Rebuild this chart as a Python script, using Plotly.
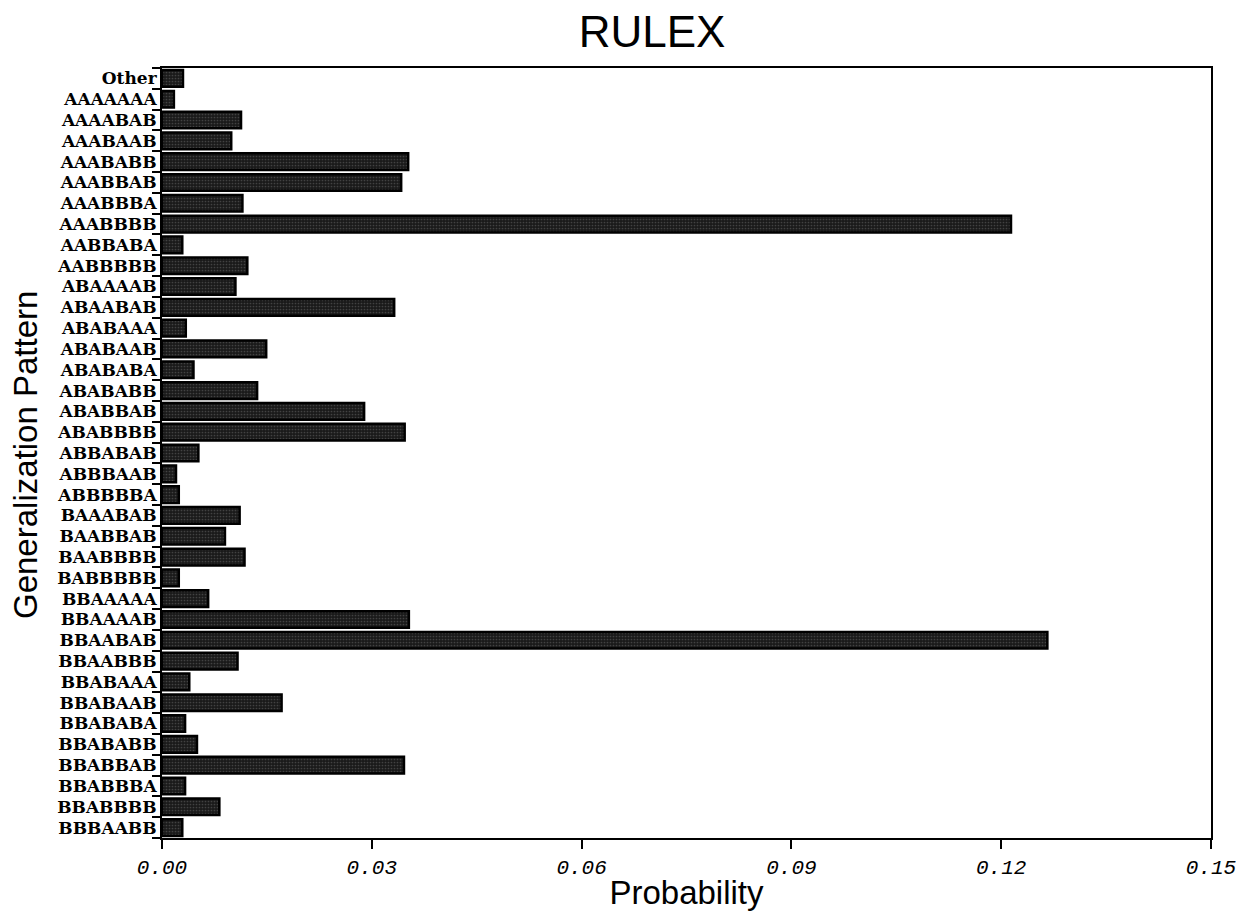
import plotly.graph_objects as go

patterns = [
    "Other", "AAAAAAA", "AAAABAB", "AAABAAB", "AAABABB", "AAABBAB", "AAABBBA",
    "AAABBBB", "AABBABA", "AABBBBB", "ABAAAAB", "ABAABAB", "ABABAAA", "ABABAAB",
    "ABABABA", "ABABABB", "ABABBAB", "ABABBBB", "ABBABAB", "ABBBAAB", "ABBBBBA",
    "BAAABAB", "BAABBAB", "BAABBBB", "BABBBBB", "BBAAAAA", "BBAAAAB", "BBAABAB",
    "BBAABBB", "BBABAAA", "BBABAAB", "BBABABA", "BBABABB", "BBABBAB", "BBABBBA",
    "BBABBBB", "BBBAABB",
]
probability = [
    0.0030, 0.0017, 0.0113, 0.0099, 0.0352, 0.0342, 0.0115,
    0.1214, 0.0029, 0.0122, 0.0105, 0.0332, 0.0034, 0.0149,
    0.0045, 0.0136, 0.0289, 0.0347, 0.0052, 0.0020, 0.0024,
    0.0111, 0.0090, 0.0118, 0.0024, 0.0066, 0.0353, 0.1266,
    0.0108, 0.0039, 0.0171, 0.0033, 0.0050, 0.0346, 0.0033,
    0.0082, 0.0029,
]
x_ticks = [0.0, 0.03, 0.06, 0.09, 0.12, 0.15]
x_tick_labels = ["0.00", "0.03", "0.06", "0.09", "0.12", "0.15"]

# page body has an 8px default margin, so the figure is sized to fit the window
W, H, OFF = 1236, 914, 8
L = 162 - OFF

fig = go.Figure(
    go.Bar(
        x=probability,
        y=patterns,
        orientation="h",
        marker=dict(
            color="#1a1a1a",
            line=dict(color="#000000", width=2.5),
            pattern=dict(shape=".", fgcolor="#6a6a6a", bgcolor="#1a1a1a",
                         size=3, solidity=0.25),
        ),
    )
)

fig.update_layout(
    width=W,
    height=H,
    paper_bgcolor="white",
    plot_bgcolor="white",
    margin=dict(l=L, r=33, t=68 - OFF, b=84),
    bargap=0.2,
    showlegend=False,
    title=dict(
        text="RULEX",
        x=(652 - OFF) / W,
        xanchor="center",
        y=1 - (32 - OFF) / H,
        yanchor="middle",
        font=dict(family="Liberation Sans, Arial, sans-serif", size=44, color="black"),
    ),
    xaxis=dict(
        range=[0, 0.15],
        tickvals=x_ticks,
        ticktext=x_tick_labels,
        automargin=False,
        showgrid=False,
        zeroline=False,
        showline=True,
        linecolor="black",
        linewidth=2,
        mirror=True,
        ticks="outside",
        ticklen=9,
        tickwidth=2,
        tickcolor="black",
        tickfont=dict(family="Liberation Mono, Courier New, monospace", size=21,
                      color="black", style="italic"),
        title=dict(
            text="Probability",
            font=dict(family="Liberation Sans, Arial, sans-serif", size=33, color="black"),
            standoff=2,
        ),
    ),
    yaxis=dict(
        type="category",
        autorange="reversed",
        tickmode="array",
        tickvals=patterns,
        ticktext=patterns,
        automargin=False,
        showgrid=False,
        zeroline=False,
        showline=True,
        linecolor="black",
        linewidth=2,
        mirror=True,
        ticks="outside",
        tickson="boundaries",
        ticklen=8,
        tickwidth=2,
        tickcolor="black",
        tickfont=dict(family="DejaVu Serif, serif", size=17,
                      color="black", weight="bold"),
    ),
    annotations=[
        dict(
            text="Generalization Pattern",
            textangle=-90,
            xref="paper",
            yref="paper",
            x=0,
            y=0.5,
            xanchor="center",
            yanchor="middle",
            xshift=25 - 162,
            yshift=-2,
            showarrow=False,
            font=dict(family="Liberation Sans, Arial, sans-serif", size=33, color="black"),
        )
    ],
)

fig.write_html("out.html")
